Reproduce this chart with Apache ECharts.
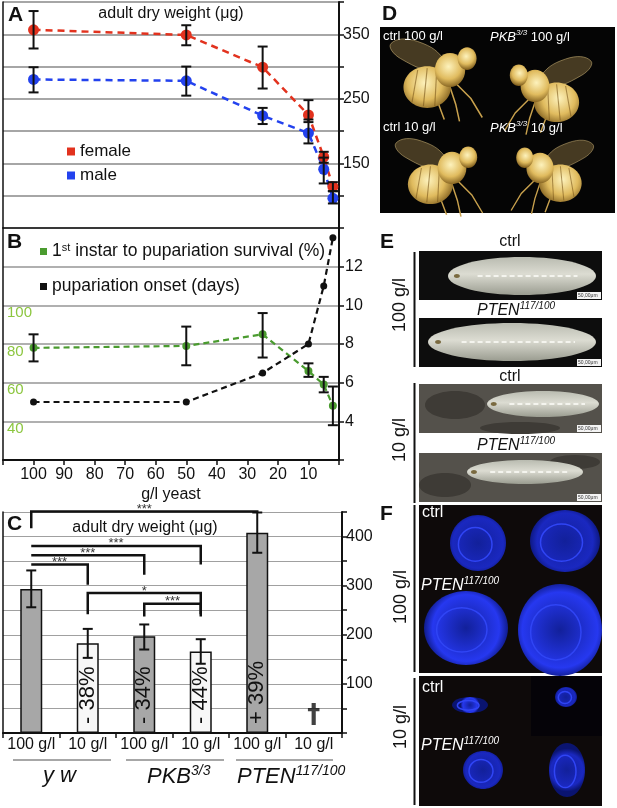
<!DOCTYPE html>
<html>
<head>
<meta charset="utf-8">
<script src="https://cdn.jsdelivr.net/npm/echarts@6/dist/echarts.min.js"></script>
<style>
html, body { margin: 0; padding: 0; background: #fff; }
#chart { width: 617px; height: 808px; }
</style>
</head>
<body>
<div id="chart"></div>
<script>
// yeast concentration (g/l), panels A and B
var yeastDose = [100, 50, 25, 10, 5, 2];
var yeastTicks = [100, 90, 80, 70, 60, 50, 40, 30, 20, 10];

// A: adult dry weight (ug)
var femaleWeight = [357, 349, 299, 225, 160, 114];
var femaleLow = [328, 333, 266, 214, 151, 107];
var femaleHigh = [386, 364, 331, 248, 168, 121];
var maleWeight = [280, 278, 224, 197, 141, 96];
var maleLow = [260, 255, 211, 181, 119, 88];
var maleHigh = [299, 300, 236, 218, 159, 107];
var weightTicks = [150, 250, 350];

// B: survival (%) and pupariation onset (days)
var survival = [78, 79, 85, 66, 59, 48];
var survivalLow = [71, 69, 73, 63, 55, 38];
var survivalHigh = [85, 89, 96, 70, 63, 58];
var onsetDays = [5, 5, 6.5, 8, 11, 13.5];
var dayTicks = [4, 6, 8, 10, 12];
var survivalTicks = [40, 60, 80, 100];

// C: adult dry weight per genotype / diet
var cCategories = ['100 g/l', '10 g/l', '100 g/l', '10 g/l', '100 g/l', '10 g/l'];
var cWeight = [293, 183, 197, 166, 408, null];
var cLow = [256, 153, 170, 141, 367, null];
var cHigh = [331, 212, 221, 191, 449, null];
var cChange = ['', '- 38%', '- 34%', '- 44%', '+ 39%', ''];
var cLethal = ['', '', '', '', '', '\u2020'];
var cTicks = [100, 200, 300, 400];
// significance: [from, to, level, left leg end, right leg end, stars]
var brackets = [
  [0, 4, 451, 417, 449, '***'],
  [0, 3, 381, null, 343, '***'],
  [0, 2, 362, null, 322, '***'],
  [0, 1, 343, null, 302, '***'],
  [1, 3, 285, 242, 242, '*'],
  [2, 3, 263, 237, 237, '***']
];

var FONT = 'Liberation Sans, Arial, sans-serif';
var SURV = '1st instar to pupariation survival (%)';
var ONSET = 'pupariation onset (days)';

function errorBar(params, api) {
  var x = api.value(0);
  var lo = api.coord([x, api.value(1)]);
  var hi = api.coord([x, api.value(2)]);
  var w = 5;
  var st = { stroke: '#111', lineWidth: 2 };
  return {
    type: 'group',
    children: [
      { type: 'line', shape: { x1: lo[0], y1: lo[1], x2: hi[0], y2: hi[1] }, style: st },
      { type: 'line', shape: { x1: lo[0] - w, y1: lo[1], x2: lo[0] + w, y2: lo[1] }, style: st },
      { type: 'line', shape: { x1: hi[0] - w, y1: hi[1], x2: hi[0] + w, y2: hi[1] }, style: st }
    ]
  };
}

function bracket(params, api) {
  var b = brackets[params.dataIndex];
  var p1 = api.coord([b[0], b[2]]);
  var p2 = api.coord([b[1], b[2]]);
  var pts = [];
  if (b[3] != null) pts.push(api.coord([b[0], b[3]]));
  pts.push(p1, p2);
  if (b[4] != null) pts.push(api.coord([b[1], b[4]]));
  return {
    type: 'group',
    children: [
      { type: 'polyline', shape: { points: pts }, style: { stroke: '#111', lineWidth: 2.5, fill: null } },
      { type: 'text', x: (p1[0] + p2[0]) / 2, y: p1[1] - 2,
        style: { text: b[5], fill: '#333', font: '13px ' + FONT, align: 'center', verticalAlign: 'middle' } }
    ]
  };
}

function pairs(xs, a, b) {
  return xs.map(function (x, i) { return b ? [x, a[i], b[i]] : [x, a[i]]; });
}

// ---------- photo panels (drawn as simple shapes) ----------
function txt(x, y, text, font, color, align) {
  return { type: 'text', x: x, y: y, style: { text: text, font: font + ' ' + FONT, fill: color || '#111',
    align: align || 'left', verticalAlign: 'middle' } };
}
function vtxt(x, y, text) {
  var t = txt(x, y, text, '18px', '#111', 'center');
  t.rotation = Math.PI / 2;
  return t;
}
function richLabel(x, y, main, sup, tail, size, color, align) {
  return { type: 'text', x: x, y: y, style: {
    text: '{i|' + main + '}{s|' + sup + '}' + (tail ? '{n|' + tail + '}' : ''),
    align: align || 'left', verticalAlign: 'middle',
    rich: {
      i: { font: 'italic ' + size + 'px ' + FONT, fill: color, verticalAlign: 'bottom', lineHeight: size + 2 },
      s: { font: 'italic ' + Math.round(size * 0.62) + 'px ' + FONT, fill: color, verticalAlign: 'top', lineHeight: size * 0.62 },
      n: { font: size + 'px ' + FONT, fill: color, verticalAlign: 'bottom', lineHeight: size + 2 }
    } } };
}
function goldFill() {
  return { type: 'radial', x: 0.45, y: 0.4, r: 0.75,
    colorStops: [{ offset: 0, color: '#fdf2bc' }, { offset: 0.55, color: '#e0bb5e' }, { offset: 1, color: '#6e4d12' }] };
}
function fly(x, y, s, flip) {
  var leg = { stroke: '#c9a24e', lineWidth: 1.6, fill: null };
  var stripe = { stroke: 'rgba(120,85,25,0.6)', lineWidth: 1.2, fill: null };
  return { type: 'group', x: x, y: y, scaleX: flip ? -s : s, scaleY: s, children: [
    { type: 'polygon', shape: { points: [[-4, -8], [-34, -30], [-62, -28], [-52, -12], [-10, 2]], smooth: 0.5 },
      style: { fill: 'rgba(150,125,70,0.45)', stroke: 'rgba(205,180,120,0.6)', lineWidth: 1 } },
    { type: 'polyline', shape: { points: [[6, 14], [22, 30], [34, 50]] }, style: leg },
    { type: 'polyline', shape: { points: [[0, 18], [6, 36], [10, 54]] }, style: leg },
    { type: 'polyline', shape: { points: [[-8, 18], [-12, 36], [-6, 52]] }, style: leg },
    { type: 'ellipse', shape: { cx: -24, cy: 18, rx: 25, ry: 22 }, style: { fill: goldFill() } },
    { type: 'line', shape: { x1: -34, y1: 0, x2: -40, y2: 34 }, style: stripe },
    { type: 'line', shape: { x1: -24, y1: -2, x2: -28, y2: 38 }, style: stripe },
    { type: 'line', shape: { x1: -14, y1: 0, x2: -16, y2: 38 }, style: stripe },
    { type: 'ellipse', shape: { cx: 0, cy: 0, rx: 16, ry: 18 }, style: { fill: goldFill() } },
    { type: 'ellipse', shape: { cx: 18, cy: -12, rx: 10, ry: 12 }, style: { fill: goldFill() } }
  ] };
}
function larva(cx, cy, rx, ry) {
  return { type: 'group', children: [
    { type: 'ellipse', shape: { cx: cx, cy: cy, rx: rx, ry: ry },
      style: { fill: { type: 'linear', x: 0, y: 0, x2: 0, y2: 1,
        colorStops: [{ offset: 0, color: '#b9bbb0' }, { offset: 0.45, color: '#dcdcd2' }, { offset: 1, color: '#9a9c90' }] } } },
    { type: 'line', shape: { x1: cx - rx * 0.6, y1: cy, x2: cx + rx * 0.75, y2: cy },
      style: { stroke: '#f4f4ee', lineWidth: 2, lineDash: [5, 3] } },
    { type: 'ellipse', shape: { cx: cx - rx * 0.88, cy: cy, rx: 3, ry: 2 }, style: { fill: '#7a6a40' } }
  ] };
}
function disc(cx, cy, rx, ry, bright) {
  var c = bright ? '#2638f0' : '#1a28c0';
  return { type: 'group', children: [
    { type: 'ellipse', shape: { cx: cx, cy: cy, rx: rx, ry: ry },
      style: { fill: { type: 'radial', x: 0.5, y: 0.5, r: 0.6,
        colorStops: [{ offset: 0, color: '#12209a' }, { offset: 0.75, color: c }, { offset: 1, color: '#0a1470' }] } } },
    { type: 'ellipse', shape: { cx: cx - rx * 0.1, cy: cy + ry * 0.05, rx: rx * 0.6, ry: ry * 0.6 },
      style: { fill: null, stroke: '#3045f5', lineWidth: 1.5 } }
  ] };
}
function scaleTag(x, y) {
  return { type: 'group', children: [
    { type: 'rect', shape: { x: x, y: y, width: 24, height: 7 }, style: { fill: '#f4f4f4' } },
    txt(x + 1, y + 3.5, '50,00\u03bcm', '5px', '#333')
  ] };
}
function line(x1, y1, x2, y2, color, w) {
  return { type: 'line', shape: { x1: x1, y1: y1, x2: x2, y2: y2 }, style: { stroke: color || '#111', lineWidth: w || 2 } };
}

var photos = [
  // D
  { type: 'rect', shape: { x: 380, y: 27, width: 235, height: 186 }, style: { fill: '#050505' } },
  fly(450, 70, 0.95, false), fly(535, 86, 0.9, true), fly(452, 168, 0.9, false), fly(540, 168, 0.85, true),
  txt(383, 36, 'ctrl 100 g/l', '13px', '#fff'),
  richLabel(490, 36, 'PKB', '3/3', ' 100 g/l', 13, '#fff'),
  txt(383, 127, 'ctrl 10 g/l', '13px', '#fff'),
  richLabel(490, 127, 'PKB', '3/3', ' 10 g/l', 13, '#fff'),
  // E
  txt(510, 242, 'ctrl', '16px', '#111', 'center'),
  { type: 'rect', shape: { x: 419, y: 251, width: 183, height: 49 }, style: { fill: '#0d0d0d' } },
  larva(522, 276, 74, 19), scaleTag(577, 292),
  richLabel(516, 310, 'PTEN', '117/100', '', 16, '#111', 'center'),
  { type: 'rect', shape: { x: 419, y: 318, width: 183, height: 49 }, style: { fill: '#0d0d0d' } },
  larva(512, 342, 84, 19), scaleTag(577, 359),
  txt(510, 377, 'ctrl', '16px', '#111', 'center'),
  { type: 'rect', shape: { x: 419, y: 384, width: 183, height: 49 }, style: { fill: '#54514b' } },
  { type: 'ellipse', shape: { cx: 455, cy: 405, rx: 30, ry: 14 }, style: { fill: '#3e3b36' } },
  { type: 'ellipse', shape: { cx: 520, cy: 428, rx: 40, ry: 6 }, style: { fill: '#3e3b36' } },
  larva(543, 404, 56, 13), scaleTag(577, 425),
  richLabel(516, 445, 'PTEN', '117/100', '', 16, '#111', 'center'),
  { type: 'rect', shape: { x: 419, y: 453, width: 183, height: 49 }, style: { fill: '#54514b' } },
  { type: 'ellipse', shape: { cx: 445, cy: 485, rx: 26, ry: 12 }, style: { fill: '#3e3b36' } },
  { type: 'ellipse', shape: { cx: 575, cy: 462, rx: 25, ry: 7 }, style: { fill: '#3e3b36' } },
  larva(525, 472, 58, 12), scaleTag(577, 494),
  line(414.5, 252, 414.5, 367), line(414.5, 383, 414.5, 503),
  vtxt(400, 305, '100 g/l'), vtxt(400, 440, '10 g/l'),
  // F
  { type: 'rect', shape: { x: 419, y: 505, width: 183, height: 168 }, style: { fill: '#0e0a0a' } },
  { type: 'rect', shape: { x: 419, y: 676, width: 183, height: 130 }, style: { fill: '#0e0a0a' } },
  { type: 'rect', shape: { x: 531, y: 676, width: 71, height: 60 }, style: { fill: '#050308' } },
  disc(478, 543, 28, 28, false), disc(565, 541, 35, 31, false),
  disc(466, 628, 42, 37, true), disc(560, 630, 42, 46, true),
  disc(470, 705, 18, 8, true), disc(566, 697, 11, 10, false),
  disc(483, 770, 20, 19, false), disc(567, 770, 18, 27, false),
  txt(422, 513, 'ctrl', '16px', '#fff'),
  richLabel(421, 585, 'PTEN', '117/100', '', 16, '#fff'),
  txt(422, 688, 'ctrl', '16px', '#fff'),
  richLabel(421, 745, 'PTEN', '117/100', '', 16, '#fff'),
  line(414.5, 505, 414.5, 672), line(414.5, 678, 414.5, 805),
  vtxt(401, 597, '100 g/l'), vtxt(401, 727, '10 g/l')
];

var letters = [
  txt(8, 15, 'A', 'bold 21px'),
  txt(7, 242, 'B', 'bold 21px'),
  txt(7, 524, 'C', 'bold 21px'),
  txt(382, 14, 'D', 'bold 21px'),
  txt(380, 242, 'E', 'bold 21px'),
  txt(380, 514, 'F', 'bold 21px'),
  txt(171, 14, 'adult dry weight (\u03bcg)', '16px', '#111', 'center'),
  txt(145, 528, 'adult dry weight (\u03bcg)', '16px', '#111', 'center'),
  txt(43, 776, 'y w', 'italic 22px'),
  richLabel(147, 776, 'PKB', '3/3', '', 22, '#111'),
  richLabel(237, 776, 'PTEN', '117/100', '', 22, '#111'),
  line(13, 760, 111, 760, '#8a8a8a', 1.5),
  line(126, 760, 224, 760, '#8a8a8a', 1.5),
  line(236, 760, 333, 760, '#8a8a8a', 1.5)
];

var axisBlack = { show: true, lineStyle: { color: '#111', width: 2 } };
var tickOut = { show: true, length: 5, lineStyle: { color: '#111', width: 1.5 } };
function pick(list) { return function (v) { return list.indexOf(v) >= 0 ? String(v) : ''; }; }
function borderAxis(grid, min, max) {
  return { type: 'value', gridIndex: grid, position: 'left', min: min, max: max,
    axisLine: { show: true, lineStyle: { color: '#111', width: 1.5 } },
    axisTick: { show: false }, axisLabel: { show: false }, splitLine: { show: false } };
}

var chart = echarts.init(document.getElementById('chart'));
chart.setOption({
  animation: false,
  textStyle: { fontFamily: FONT },
  grid: [
    { left: 3, right: 278, top: 2, height: 226 },
    { left: 3, right: 278, top: 228, height: 232 },
    { left: 3, right: 275, top: 512, height: 221 }
  ],
  legend: [
    { data: ['female', 'male'], left: 62, top: 138, orient: 'vertical', icon: 'rect',
      itemWidth: 8, itemHeight: 8, itemGap: 7, selectedMode: false,
      textStyle: { fontSize: 17, color: '#111', fontFamily: FONT } },
    { data: [SURV, ONSET], left: 35, top: 237, orient: 'vertical', icon: 'rect',
      itemWidth: 7, itemHeight: 7, itemGap: 16, selectedMode: false,
      formatter: function (n) { return n === SURV ? '1{sup|st} instar to pupariation survival (%)' : n; },
      textStyle: { fontSize: 17.5, color: '#111', fontFamily: FONT, lineHeight: 19,
        rich: { sup: { fontSize: 11, verticalAlign: 'top', lineHeight: 11, color: '#111' } } } }
  ],
  xAxis: [
    { type: 'value', gridIndex: 0, min: 0, max: 110, inverse: true,
      axisLine: { show: true, onZero: false, lineStyle: { color: '#111', width: 1.5 } },
      axisTick: { show: false }, axisLabel: { show: false }, splitLine: { show: false } },
    { type: 'value', gridIndex: 1, min: 0, max: 110, interval: 10, inverse: true,
      axisLine: { show: true, onZero: false, lineStyle: { color: '#111', width: 2 } },
      axisTick: tickOut, splitLine: { show: false },
      axisLabel: { formatter: pick(yeastTicks), fontSize: 16, color: '#111', margin: 7 },
      name: 'g/l yeast', nameLocation: 'middle', nameGap: 27,
      nameTextStyle: { fontSize: 16, color: '#111' } },
    { type: 'category', gridIndex: 2, data: cCategories,
      axisLine: { show: true, onZero: false, lineStyle: { color: '#111', width: 2 } },
      axisTick: { show: true, length: 5, alignWithLabel: false, lineStyle: { color: '#111', width: 1.5 } },
      axisLabel: { interval: 0, fontSize: 16, color: '#111', margin: 4 } }
  ],
  yAxis: [
    { type: 'value', gridIndex: 0, position: 'right', min: 50, max: 400, interval: 50,
      axisLine: axisBlack, axisTick: tickOut,
      axisLabel: { formatter: pick(weightTicks), fontSize: 16, color: '#111', margin: 4 },
      splitLine: { show: true, lineStyle: { color: '#a6a6a6', width: 2 } } },
    borderAxis(0, 50, 400),
    { type: 'value', gridIndex: 1, position: 'right', min: 2, max: 14, interval: 2,
      axisLine: axisBlack, axisTick: tickOut,
      axisLabel: { formatter: pick(dayTicks), fontSize: 16, color: '#111', margin: 6 },
      splitLine: { show: true, lineStyle: { color: '#b0b0b0', width: 2 } } },
    { type: 'value', gridIndex: 1, position: 'left', min: 20, max: 140, interval: 20,
      axisLine: { show: true, lineStyle: { color: '#111', width: 1.5 } },
      axisTick: { show: false }, splitLine: { show: false },
      axisLabel: { inside: true, formatter: pick(survivalTicks), fontSize: 15, color: '#8cc63f',
        verticalAlign: 'top', margin: 4 } },
    { type: 'value', gridIndex: 2, position: 'right', min: 0, max: 450, interval: 50,
      axisLine: axisBlack, axisTick: tickOut,
      axisLabel: { formatter: pick(cTicks), fontSize: 16, color: '#111', margin: 4 },
      splitLine: { show: true, lineStyle: { color: '#a0a0a0', width: 1.2 } } },
    borderAxis(2, 0, 450)
  ],
  series: [
    { name: 'female', type: 'line', xAxisIndex: 0, yAxisIndex: 0, data: pairs(yeastDose, femaleWeight),
      color: '#e2321e', symbol: 'circle', symbolSize: 11, silent: true,
      lineStyle: { type: [7, 5], width: 2.5 } },
    { name: 'male', type: 'line', xAxisIndex: 0, yAxisIndex: 0, data: pairs(yeastDose, maleWeight),
      color: '#2342ee', symbol: 'circle', symbolSize: 11, silent: true,
      lineStyle: { type: [7, 5], width: 2.5 } },
    { type: 'custom', xAxisIndex: 0, yAxisIndex: 0, renderItem: errorBar, z: 5, silent: true,
      data: pairs(yeastDose, femaleLow, femaleHigh) },
    { type: 'custom', xAxisIndex: 0, yAxisIndex: 0, renderItem: errorBar, z: 5, silent: true,
      data: pairs(yeastDose, maleLow, maleHigh) },
    { name: SURV, type: 'line', xAxisIndex: 1, yAxisIndex: 3, data: pairs(yeastDose, survival),
      color: '#4a9b2f', symbol: 'circle', symbolSize: 8, silent: true,
      lineStyle: { type: [6, 4], width: 2.2 } },
    { type: 'custom', xAxisIndex: 1, yAxisIndex: 3, renderItem: errorBar, z: 5, silent: true,
      data: pairs(yeastDose, survivalLow, survivalHigh) },
    { name: ONSET, type: 'line', xAxisIndex: 1, yAxisIndex: 2, data: pairs(yeastDose, onsetDays),
      color: '#111', symbol: 'circle', symbolSize: 7, silent: true,
      lineStyle: { type: [6, 4], width: 2.2 } },
    { type: 'bar', xAxisIndex: 2, yAxisIndex: 4, barWidth: 22, silent: true,
      data: cWeight.map(function (v, i) {
        return { value: v, itemStyle: { color: i % 2 === 0 ? '#a7a7a7' : '#f7f7f7' } };
      }),
      itemStyle: { borderColor: '#111', borderWidth: 1.5 },
      label: { show: true, position: 'insideBottom', rotate: 90, align: 'left', verticalAlign: 'middle',
        distance: 9, fontSize: 22, color: '#111',
        formatter: function (p) { return cChange[p.dataIndex]; } } },
    { type: 'custom', xAxisIndex: 2, yAxisIndex: 4, renderItem: errorBar, z: 5, silent: true,
      data: cWeight.map(function (v, i) { return [i, cLow[i], cHigh[i]]; })
        .filter(function (d) { return d[1] != null; }) },
    { type: 'custom', xAxisIndex: 2, yAxisIndex: 4, renderItem: bracket, z: 6, silent: true, clip: false,
      data: brackets.map(function (b) { return [b[0], b[1], b[2]]; }),
      encode: { x: [0, 1], y: 2 } },
    { type: 'scatter', xAxisIndex: 2, yAxisIndex: 4, symbolSize: 0, silent: true,
      data: cLethal.map(function (t, i) { return t ? [i, 0] : null; }).filter(Boolean),
      label: { show: true, position: 'top', distance: 4, fontSize: 26, fontWeight: 'bold',
        fontFamily: 'DejaVu Sans', color: '#111',
        formatter: function (p) { return cLethal[p.data[0]]; } } }
  ],
  graphic: { elements: photos.concat(letters) }
});
</script>
</body>
</html>
